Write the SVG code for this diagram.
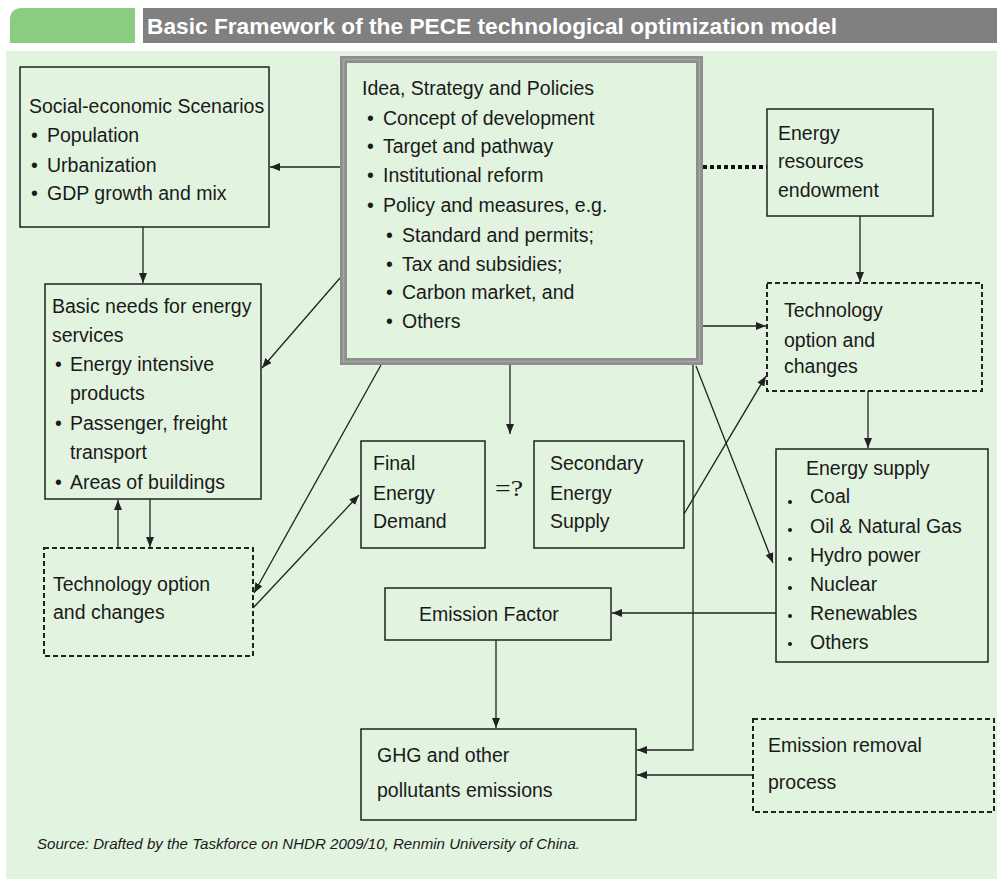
<svg xmlns="http://www.w3.org/2000/svg" width="997" height="881" viewBox="0 0 997 881">
<style>
.t{font-family:"Liberation Sans",Arial,sans-serif;font-size:19.5px;fill:#1a1a1a}
.box{fill:none;stroke:#222;stroke-width:1.5}
.dash{fill:none;stroke:#222;stroke-width:2;stroke-dasharray:5 3}
.c{fill:none;stroke:#222;stroke-width:1.3}
.a{marker-end:url(#ah)}
</style>
<defs>
<marker id="ah" markerUnits="userSpaceOnUse" markerWidth="10" markerHeight="8" refX="10" refY="4" orient="auto">
<path d="M0,0 L10,4 L0,8 z" fill="#222"/>
</marker>
</defs>
<rect x="0" y="0" width="997" height="881" fill="#ffffff"/>
<rect x="6" y="51" width="991" height="828" fill="#E2F3E0"/>
<g id="header">
<path d="M10,43 L10,20 Q10,8 22,8 L135,8 L135,43 z" fill="#8ACD81"/>
<rect x="143" y="8" width="854" height="35" fill="#808080"/>
<text x="147" y="34" font-family="Liberation Sans,Arial,sans-serif" font-weight="bold" font-size="22" fill="#ffffff" textLength="690" lengthAdjust="spacingAndGlyphs">Basic Framework of the PECE technological optimization model</text>
</g>
<g id="connectors">
<path class="c a" d="M340,167 L270,167"/>
<path d="M703,167 L767,167" fill="none" stroke="#111" stroke-width="4" stroke-dasharray="4 3"/>
<path class="c a" d="M143,227 L143,283"/>
<path class="c a" d="M340,278 L262,368"/>
<path class="c a" d="M381,365 L254,593"/>
<path class="c a" d="M118,548 L118,500"/>
<path class="c a" d="M150,499 L150,547"/>
<path class="c a" d="M253,608 L359,495"/>
<path class="c a" d="M510,365 L510,434"/>
<path class="c a" d="M703,326 L766,326"/>
<path class="c a" d="M860,216 L860,282"/>
<path class="c a" d="M684,514 L766,376"/>
<path class="c a" d="M868,391 L868,448"/>
<path class="c a" d="M696,366 L773,563"/>
<path class="c a" d="M693,365 L693,750 L637,750"/>
<path class="c a" d="M776,613 L612,613"/>
<path class="c a" d="M496,640 L496,728"/>
<path class="c a" d="M753,775 L637,775"/>
</g>
<g id="social">
<rect class="box" x="20" y="67" width="249" height="160"/>
<text class="t" x="29" y="113">Social-economic Scenarios</text>
<text class="t" y="142"><tspan x="31">•</tspan><tspan x="47">Population</tspan></text>
<text class="t" y="172"><tspan x="31">•</tspan><tspan x="47">Urbanization</tspan></text>
<text class="t" y="200"><tspan x="31">•</tspan><tspan x="47">GDP growth and mix</tspan></text>
</g>
<g id="policies">
<rect x="343.5" y="59.5" width="356" height="302" fill="none" stroke="#8E8E8E" stroke-width="7"/>
<rect x="343.5" y="59.5" width="356" height="302" fill="none" stroke="#A6A6A6" stroke-width="1.5"/>
<text class="t" x="362" y="95">Idea, Strategy and Policies</text>
<text class="t" y="125"><tspan x="367">•</tspan><tspan x="383">Concept of development</tspan></text>
<text class="t" y="153"><tspan x="367">•</tspan><tspan x="383">Target and pathway</tspan></text>
<text class="t" y="182"><tspan x="367">•</tspan><tspan x="383">Institutional reform</tspan></text>
<text class="t" y="212"><tspan x="367">•</tspan><tspan x="383">Policy and measures, e.g.</tspan></text>
<text class="t" y="242"><tspan x="386">•</tspan><tspan x="402">Standard and permits;</tspan></text>
<text class="t" y="271"><tspan x="386">•</tspan><tspan x="402">Tax and subsidies;</tspan></text>
<text class="t" y="299"><tspan x="386">•</tspan><tspan x="402">Carbon market, and</tspan></text>
<text class="t" y="328"><tspan x="386">•</tspan><tspan x="402">Others</tspan></text>
</g>
<g id="resources">
<rect class="box" x="767" y="109" width="166" height="107"/>
<text class="t" x="778" y="140">Energy</text>
<text class="t" x="778" y="168">resources</text>
<text class="t" x="778" y="197">endowment</text>
</g>
<g id="tech-right">
<rect class="dash" x="767" y="283" width="215" height="108"/>
<text class="t" x="784" y="317">Technology</text>
<text class="t" x="784" y="347">option and</text>
<text class="t" x="784" y="373">changes</text>
</g>
<g id="basic-needs">
<rect class="box" x="45" y="284" width="216" height="215"/>
<text class="t" x="52" y="313">Basic needs for energy</text>
<text class="t" x="52" y="342">services</text>
<text class="t" y="371"><tspan x="55">•</tspan><tspan x="70">Energy intensive</tspan></text>
<text class="t" x="70" y="400">products</text>
<text class="t" y="430"><tspan x="55">•</tspan><tspan x="70">Passenger, freight</tspan></text>
<text class="t" x="70" y="459">transport</text>
<text class="t" y="489"><tspan x="55">•</tspan><tspan x="70">Areas of buildings</tspan></text>
</g>
<g id="tech-left">
<rect class="dash" x="44" y="548" width="209" height="108"/>
<text class="t" x="53" y="591">Technology option</text>
<text class="t" x="53" y="619">and changes</text>
</g>
<g id="final-demand">
<rect class="box" x="361" y="441" width="124" height="107"/>
<text class="t" x="373" y="470">Final</text>
<text class="t" x="373" y="500">Energy</text>
<text class="t" x="373" y="528">Demand</text>
</g>
<text x="495" y="496" font-family="Liberation Serif,Times New Roman,serif" font-size="24" fill="#1a1a1a" textLength="28" lengthAdjust="spacingAndGlyphs">=?</text>
<g id="secondary-supply">
<rect class="box" x="534" y="441" width="150" height="107"/>
<text class="t" x="550" y="470">Secondary</text>
<text class="t" x="550" y="500">Energy</text>
<text class="t" x="550" y="528">Supply</text>
</g>
<g id="energy-supply">
<rect class="box" x="776" y="449" width="212" height="213"/>
<text class="t" x="806" y="475">Energy supply</text>
<circle cx="790" cy="502" r="2" fill="#1a1a1a"/>
<circle cx="790" cy="530" r="2" fill="#1a1a1a"/>
<circle cx="790" cy="559" r="2" fill="#1a1a1a"/>
<circle cx="790" cy="588" r="2" fill="#1a1a1a"/>
<circle cx="790" cy="616" r="2" fill="#1a1a1a"/>
<circle cx="790" cy="644" r="2" fill="#1a1a1a"/>
<text class="t" x="810" y="503">Coal</text>
<text class="t" x="810" y="533">Oil &amp; Natural Gas</text>
<text class="t" x="810" y="562">Hydro power</text>
<text class="t" x="810" y="591">Nuclear</text>
<text class="t" x="810" y="620">Renewables</text>
<text class="t" x="810" y="649">Others</text>
</g>
<g id="emission-factor">
<rect class="box" x="385" y="588" width="226" height="52"/>
<text class="t" x="419" y="621">Emission Factor</text>
</g>
<g id="ghg">
<rect class="box" x="361" y="729" width="275" height="91"/>
<text class="t" x="377" y="762">GHG and other</text>
<text class="t" x="377" y="797">pollutants emissions</text>
</g>
<g id="removal">
<rect class="dash" x="753" y="719" width="241" height="93"/>
<text class="t" x="768" y="752">Emission removal</text>
<text class="t" x="768" y="789">process</text>
</g>
<text x="37" y="849" font-family="Liberation Sans,Arial,sans-serif" font-style="italic" font-size="15" fill="#1a1a1a" textLength="543" lengthAdjust="spacingAndGlyphs">Source: Drafted by the Taskforce on NHDR 2009/10, Renmin University of China.</text>
</svg>
